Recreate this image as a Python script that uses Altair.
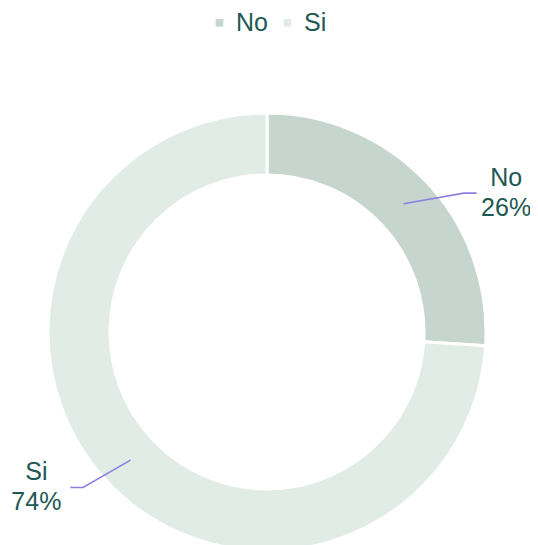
import altair as alt
import pandas as pd
import numpy as np

# ---- data ----
categories = ["No", "Si"]
values = [26, 74]
colors = ["#c6d6ce", "#e2ece7"]

# ---- layout (not data) ----
W, H = 522, 537
PX = 219.0            # pixels per unit radius (outer radius)
CX, CY = 259, 324     # donut centre inside plot area
R_OUT, R_IN = 219, 157
label_nudge_deg = [8, 3]
label_gap = [0.135, 0.155]
TEXT_COLOR = "#1d5853"
LINE_COLOR = "#8a80e2"
FONT = "Liberation Sans"

x_dom = [-CX / PX, (W - CX) / PX]
y_dom = [-(H - CY) / PX, CY / PX]

total = float(sum(values))
arc_df = pd.DataFrame({"cat": categories, "val": values, "idx": range(len(values))})

line_rows, text_rows = [], []
cum = 0.0
for i, (c, v) in enumerate(zip(categories, values)):
    mid = 2 * np.pi * (cum + v / 2.0) / total
    cum += v
    a2 = mid + np.radians(label_nudge_deg[i])
    p0 = (0.855 * np.sin(mid), 0.855 * np.cos(mid))
    p1 = (1.1 * np.sin(a2), 1.1 * np.cos(a2))
    s = 1 if p1[0] > 0 else -1
    p2 = (p1[0] + s * 0.058, p1[1])
    for k, p in enumerate([p0, p1, p2]):
        line_rows.append({"cat": c, "k": k, "x": p[0], "y": p[1]})
    text_rows.append({"cat": c, "x": p2[0] + s * label_gap[i], "y": p2[1], "t": f"{c}\n{v}%"})

line_df = pd.DataFrame(line_rows)
text_df = pd.DataFrame(text_rows)

xs = alt.Scale(domain=x_dom, nice=False, zero=False)
ys = alt.Scale(domain=y_dom, nice=False, zero=False)

arcs = alt.Chart(arc_df).mark_arc(
    outerRadius=R_OUT, innerRadius=R_IN, stroke="white", strokeWidth=3
).encode(
    theta=alt.Theta("val:Q", stack=True),
    color=alt.Color(
        "cat:N",
        scale=alt.Scale(domain=categories, range=colors),
        legend=alt.Legend(
            title=None, orient="none", legendX=199, legendY=2, direction="horizontal",
            symbolType="square", symbolSize=60, symbolStrokeWidth=0,
            labelFontSize=25, labelColor=TEXT_COLOR, labelFont=FONT,
            labelOffset=4, columnPadding=7,
        ),
    ),
    order=alt.Order("idx:Q"),
    x=alt.value(CX),
    y=alt.value(CY),
)

lines = alt.Chart(line_df).mark_line(color=LINE_COLOR, strokeWidth=1.6).encode(
    x=alt.X("x:Q", scale=xs, axis=None),
    y=alt.Y("y:Q", scale=ys, axis=None),
    detail="cat:N",
    order="k:Q",
)

texts = alt.Chart(text_df).mark_text(
    align="center", baseline="middle", lineBreak="\n", fontSize=25,
    lineHeight=30, font=FONT, color=TEXT_COLOR, dy=-15,
).encode(
    x=alt.X("x:Q", scale=xs, axis=None),
    y=alt.Y("y:Q", scale=ys, axis=None),
    text="t:N",
)

chart = alt.layer(arcs, lines, texts).properties(
    width=W, height=H, padding=0, autosize=alt.AutoSizeParams(type="none")
).configure_view(stroke=None).configure_legend(symbolStrokeColor=None)

chart.save("out.html", embed_options={"renderer": "svg", "actions": False})
